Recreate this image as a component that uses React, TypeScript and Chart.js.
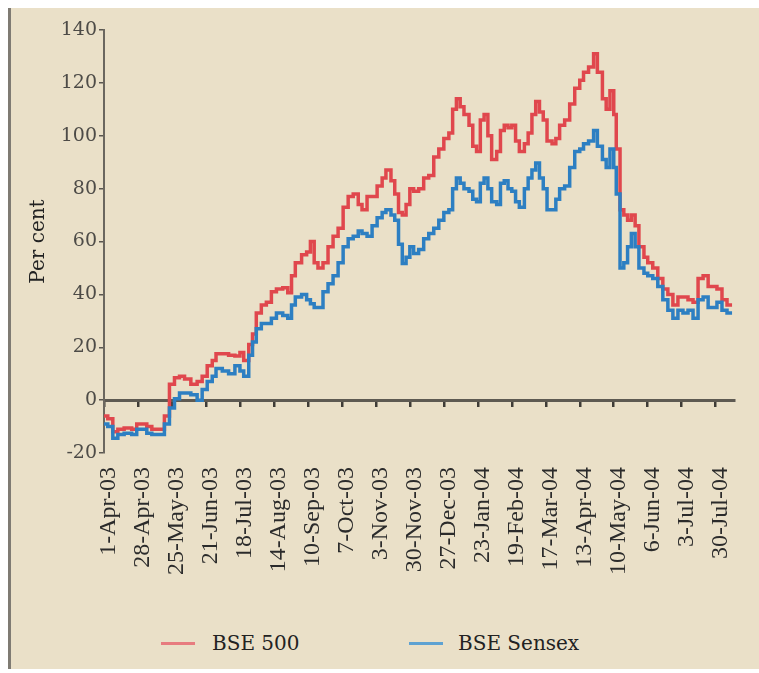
import React, { useEffect, useRef } from 'react';
import { Chart, registerables } from 'chart.js';

Chart.register(...registerables);

// Days elapsed since 1-Apr-2003
const daysSince1Apr03 = [
  0, 3, 7, 11, 16, 22, 26, 30, 34, 38, 44, 48, 52, 56, 60, 64, 69, 74, 78, 82,
  86, 89, 94, 99, 104, 108, 111, 115, 118, 121, 125, 129, 133, 137, 142, 146, 149, 152, 157, 161,
  164, 167, 170, 174, 178, 182, 186, 190, 194, 198, 202, 205, 209, 213, 217, 221, 224, 228, 231, 234,
  237, 240, 243, 246, 250, 254, 258, 262, 266, 270, 274, 277, 280, 283, 286, 290, 293, 296, 299, 302,
  305, 308, 312, 315, 318, 321, 324, 327, 330, 334, 337, 340, 343, 346, 349, 352, 356, 359, 362, 366,
  370, 374, 378, 381, 385, 389, 392, 396, 399, 402, 405, 407, 410, 413, 416, 419, 422, 425, 429, 432,
  436, 440, 444, 448, 452, 456, 460, 464, 468, 472, 476, 480, 484, 487, 491, 495, 499,
];

// BSE 500, per cent change
const bse500 = [
  -6, -7, -12, -11, -10.5, -11, -9, -9, -10, -11, -11, -6, 6, 8.5, 9, 8, 6, 7, 9, 13,
  15, 17.5, 17.5, 17, 16.7, 18, 15, 21, 25, 33, 36, 37, 41, 42, 42.5, 40.6, 47, 52, 55, 56,
  60, 52, 50, 52, 58, 62, 65, 73, 77, 78, 74, 72, 77, 77, 81, 84, 87, 83, 78, 71,
  70, 74, 80, 79, 80, 84, 85, 92, 95, 99, 101, 110, 114, 111, 108, 104, 96, 94, 106, 108,
  100, 91, 94, 102, 104, 103, 104, 98, 94, 97, 101, 108, 113, 109, 106, 98, 97, 99, 104, 106,
  112, 118, 121, 124, 126, 131, 124, 114, 110, 117, 108, 95, 72, 70, 68, 70, 66, 58, 54, 52,
  50, 46, 42, 40, 36, 39, 39, 38, 37, 46, 47, 43, 43, 42, 38, 36, 36,
];

// BSE Sensex, per cent change
const bseSensex = [
  -9, -10, -14.4, -13, -12.5, -13, -11, -11, -12.5, -13, -13, -9, -3, 0.5, 2.7, 2.7, 2, 0, 4, 7,
  9, 12, 11, 10, 13, 11, 9, 17, 22, 27, 29, 29, 31, 33, 32, 31, 36, 39, 40, 38,
  36.5, 35, 35, 41, 44, 47, 52, 58, 61, 62, 64, 63, 62, 66, 69, 71, 72, 70, 68, 59,
  51.7, 54, 58, 55.5, 57, 61, 63, 65, 68, 71, 72, 80, 84, 82, 80, 79, 76, 75, 82, 84,
  80, 75, 74, 82, 83, 80, 79, 75, 73, 80, 84, 87, 89.7, 84, 80, 72, 72, 76, 80, 81,
  88, 94, 95, 97, 98, 102, 96, 91, 88, 95, 88, 78, 50, 52, 58, 63, 58, 50, 48, 47,
  46, 43, 38, 34, 31, 34, 33, 34, 31, 38, 39, 35, 35, 37, 34, 33, 33,
];

const xTickLabels = [
  '1-Apr-03', '28-Apr-03', '25-May-03', '21-Jun-03', '18-Jul-03', '14-Aug-03', '10-Sep-03',
  '7-Oct-03', '3-Nov-03', '30-Nov-03', '27-Dec-03', '23-Jan-04', '19-Feb-04', '17-Mar-04',
  '13-Apr-04', '10-May-04', '6-Jun-04', '3-Jul-04', '30-Jul-04',
];
const xTickStepDays = 27;
const xMaxDay = 501;

const yMin = -20;
const yMax = 140;
const yStep = 20;

const seriesNames = ['BSE 500', 'BSE Sensex'];
const seriesColors = ['#e0474d', '#2d7fc2'];
const legendColors = ['#e77c7f', '#5ea2d2'];

export default function App() {
  const ref = useRef<HTMLCanvasElement>(null);

  useEffect(() => {
    if (!ref.current) return;
    const chart = new Chart(ref.current, {
      type: 'line',
      data: {
        datasets: [
          {
            label: seriesNames[0],
            data: daysSince1Apr03.map((d, i) => ({ x: d, y: bse500[i] })),
            borderColor: seriesColors[0],
            backgroundColor: seriesColors[0],
            borderWidth: 3.5,
            pointRadius: 0,
            stepped: true,
            order: 1,
            xAxisID: 'x',
            yAxisID: 'y',
          },
          {
            label: seriesNames[1],
            data: daysSince1Apr03.map((d, i) => ({ x: d, y: bseSensex[i] })),
            borderColor: seriesColors[1],
            backgroundColor: seriesColors[1],
            borderWidth: 3.5,
            pointRadius: 0,
            stepped: true,
            order: 0,
            xAxisID: 'x',
            yAxisID: 'y',
          },
        ],
      },
      options: {
        responsive: false,
        animation: false,
        layout: { padding: { top: 22, right: 17, bottom: 0, left: 0 } },
        plugins: {
          legend: { display: false },
          tooltip: { enabled: false },
        },
        scales: {
          x: {
            type: 'linear',
            position: { y: 0 } as any,
            min: 0,
            max: xMaxDay,
            grid: {
              drawOnChartArea: false,
              drawTicks: true,
              tickLength: 5,
              color: '#3f3c37',
              lineWidth: 2.5,
            },
            border: { display: true, color: '#5e5a52', width: 3 },
            ticks: {
              display: false,
              stepSize: xTickStepDays,
              includeBounds: false,
              autoSkip: false,
            },
          },
          x2: {
            type: 'linear',
            position: 'bottom',
            min: 0,
            max: xMaxDay,
            grid: { display: false, drawTicks: false },
            border: { display: false },
            ticks: {
              stepSize: xTickStepDays,
              includeBounds: false,
              autoSkip: false,
              maxRotation: 90,
              minRotation: 90,
              padding: 14,
              labelOffset: 5,
              color: '#2b2b2b',
              font: { family: 'Liberation Serif', size: 24 },
              callback: (v: any) => xTickLabels[Math.round(Number(v) / xTickStepDays)] ?? '',
            },
            afterFit: (s: any) => {
              s.height = 165;
            },
          },
          y: {
            type: 'linear',
            position: 'left',
            min: yMin,
            max: yMax,
            ticks: {
              stepSize: yStep,
              padding: 2,
              color: '#4d4b47',
              font: { family: 'DejaVu Serif', size: 19 },
            },
            grid: {
              drawOnChartArea: false,
              drawTicks: true,
              tickLength: 5,
              color: '#5a5750',
              lineWidth: 1.5,
            },
            border: { display: true, color: '#6b675f', width: 2 },
            title: {
              display: true,
              text: 'Per cent',
              color: '#222',
              font: { family: 'DejaVu Serif', size: 20 },
              padding: { top: 16, bottom: 0 },
            },
            afterFit: (s: any) => {
              s.width = 93;
            },
          },
        },
      },
    });
    return () => chart.destroy();
  }, []);

  const legendText: React.CSSProperties = {
    position: 'absolute',
    top: 623,
    lineHeight: '24px',
    fontFamily: 'DejaVu Serif',
    fontSize: 20,
    color: '#222',
    whiteSpace: 'nowrap',
  };
  const legendLine = (left: number, color: string): React.CSSProperties => ({
    position: 'absolute',
    left,
    top: 634,
    width: 34,
    height: 3,
    background: color,
  });

  return (
    <div
      style={{
        position: 'fixed',
        left: 8,
        top: 8,
        width: 751,
        height: 661,
        background: '#eae0c8',
        borderLeft: '3px solid #7f7b73',
        boxSizing: 'border-box',
      }}
    >
      <canvas
        ref={ref}
        width={748}
        height={610}
        style={{ position: 'absolute', left: 0, top: 0, display: 'block' }}
      />
      <div style={legendLine(150, legendColors[0])} />
      <div style={{ ...legendText, left: 201 }}>{seriesNames[0]}</div>
      <div style={legendLine(398, legendColors[1])} />
      <div style={{ ...legendText, left: 447 }}>{seriesNames[1]}</div>
    </div>
  );
}
